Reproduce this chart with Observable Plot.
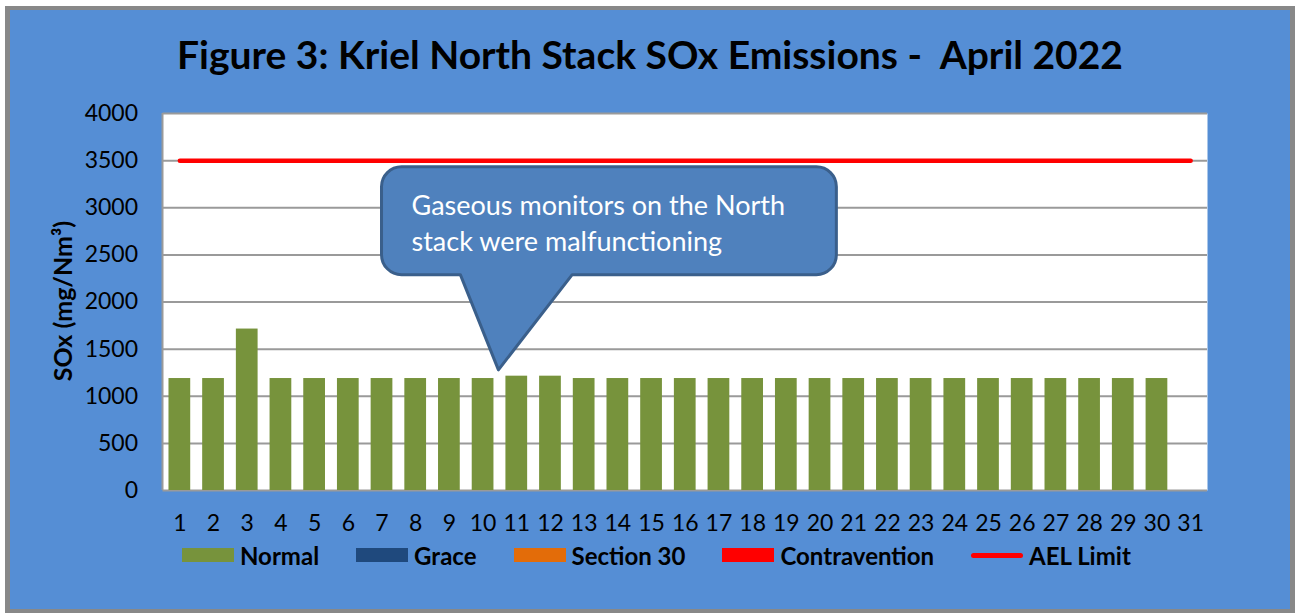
<!DOCTYPE html>
<html><head><meta charset="utf-8">
<script src="https://cdn.jsdelivr.net/npm/d3@7"></script>
<script src="https://cdn.jsdelivr.net/npm/@observablehq/plot@0.6"></script>
<style>
html,body{margin:0;padding:0;background:#fff;}
#wrap{position:relative;width:1300px;height:613px;overflow:hidden;font-family:Lato,"Open Sans",sans-serif;}
#frame{position:absolute;left:5px;top:6px;width:1280px;height:599px;background:#558ED5;border-style:solid;border-color:#888;border-width:4px 5px 4px 5px;}
#title{position:absolute;left:0;top:35px;width:1300px;text-align:center;font-weight:bold;font-size:39px;line-height:39px;color:#000;white-space:pre;}
#chart{position:absolute;left:0;top:90px;}
#ylabel{position:absolute;left:62px;top:301px;transform:translate(-50%,-50%) rotate(-90deg);font-weight:bold;font-size:25px;white-space:nowrap;color:#000;}
#legend{position:absolute;left:182px;top:543px;height:24px;display:flex;align-items:center;gap:37px;font-weight:bold;font-size:24px;color:#000;}
.item{display:flex;align-items:center;gap:6px;}
.sw{width:52px;height:14px;}
.ln{width:52px;height:5px;border-radius:3px;}
</style>
</head><body>
<div id="wrap">
  <div id="frame"></div>
  <div id="title"></div>
  <div id="chart"></div>
  <div id="ylabel"></div>
  <div id="legend"></div>
</div>
<script>
// ---- data ----
const titleText = "Figure 3: Kriel North Stack SOx Emissions -  April 2022";
const yAxisLabel = "SOx (mg/Nm³)";
const days = ["1","2","3","4","5","6","7","8","9","10","11","12","13","14","15","16","17","18","19","20","21","22","23","24","25","26","27","28","29","30","31"];
const normalValues = [1188,1188,1713,1188,1188,1188,1188,1188,1188,1188,1213,1213,1188,1188,1188,1188,1188,1188,1188,1188,1188,1188,1188,1188,1188,1188,1188,1188,1188,1188,null];
const aelLimit = [3500,3500,3500,3500,3500,3500,3500,3500,3500,3500,3500,3500,3500,3500,3500,3500,3500,3500,3500,3500,3500,3500,3500,3500,3500,3500,3500,3500,3500,3500,3500];
const yTicks = [0,500,1000,1500,2000,2500,3000,3500,4000];
const legendNames = ["Normal","Grace","Section 30","Contravention","AEL Limit"];
const legendColors = ["#77933C","#1F497D","#E36C09","#FF0000","#FF0000"];
const calloutLines = ["Gaseous monitors on the North","stack were malfunctioning"];
// callout geometry in data space (day position, SOx value)
const calloutBox = {x1: 7.0, x2: 20.5, y1: 2285, y2: 3430};
const calloutTip = {x: 10.47, y: 1275, base1: 9.34, base2: 12.66};

// ---- build ----
document.getElementById("title").textContent = titleText;
document.getElementById("ylabel").textContent = yAxisLabel;

const rows = days.map((d,i) => ({day: d, normal: normalValues[i], ael: aelLimit[i]}));

function calloutMark(index, scales, values, dimensions) {
  const x = scales.x, y = scales.y;
  const bw = x.bandwidth ? x.bandwidth() : 0;
  const step = x.step ? x.step() : bw;
  const px = u => x(days[0]) + bw/2 + (u-1)*step;
  const g = d3.create("svg:g");
  // left axis line
  g.append("line")
    .attr("x1", dimensions.marginLeft).attr("x2", dimensions.marginLeft)
    .attr("y1", dimensions.marginTop).attr("y2", dimensions.height - dimensions.marginBottom)
    .attr("stroke", "#9a9a9a").attr("stroke-width", 2);
  const L = px(calloutBox.x1), R = px(calloutBox.x2), T = y(calloutBox.y2), B = y(calloutBox.y1);
  const tx = px(calloutTip.x), ty = y(calloutTip.y), b1 = px(calloutTip.base1), b2 = px(calloutTip.base2);
  const r = 20;
  const p = `M${L+r},${T} H${R-r} A${r},${r} 0 0 1 ${R},${T+r} V${B-r} A${r},${r} 0 0 1 ${R-r},${B} H${b2} L${tx},${ty} L${b1},${B} H${L+r} A${r},${r} 0 0 1 ${L},${B-r} V${T+r} A${r},${r} 0 0 1 ${L+r},${T} Z`;
  g.append("path").attr("d", p).attr("fill", "#4F81BD").attr("stroke", "#3A5F8B").attr("stroke-width", 3).attr("stroke-linejoin","round");
  calloutLines.forEach((t, i) => {
    g.append("text").attr("x", L + 30).attr("y", T + 48 + i*36)
      .attr("text-anchor", "start")
      .attr("fill", "#fff").attr("font-size", 27).attr("font-family", "Lato, sans-serif").text(t);
  });
  return g.node();
}

const chart = Plot.plot({
  width: 1300,
  height: 450,
  marginLeft: 162.5,
  marginRight: 93,
  marginTop: 23,
  marginBottom: 50,
  style: {background: "transparent", fontFamily: "Lato, sans-serif", fontSize: "23px", color: "#000", overflow: "visible"},
  x: {type: "band", domain: days, paddingInner: 0.355, paddingOuter: 0.1775, round: false, tickSize: 0, tickPadding: 24, label: null},
  y: {domain: [0, 4000], ticks: yTicks, tickFormat: d => String(d), tickSize: 0, tickPadding: 25, label: null},
  marks: [
    Plot.frame({fill: "#fff", stroke: "none"}),
    Plot.ruleY(yTicks, {stroke: "#9a9a9a", strokeWidth: 2}),
    Plot.barY(rows.filter(d => d.normal != null), {x: "day", y: "normal", fill: "#77933C"}),
    Plot.line(rows, {x: "day", y: "ael", stroke: "#FF0000", strokeWidth: 4.5, strokeLinecap: "round"}),
    calloutMark
  ]
});
document.getElementById("chart").appendChild(chart);

const legend = d3.select("#legend");
legendNames.forEach((n, i) => {
  const it = legend.append("div").attr("class", "item");
  it.append("div").attr("class", i === 4 ? "ln" : "sw").style("background", legendColors[i]);
  it.append("span").text(n);
});
</script>
</body></html>
